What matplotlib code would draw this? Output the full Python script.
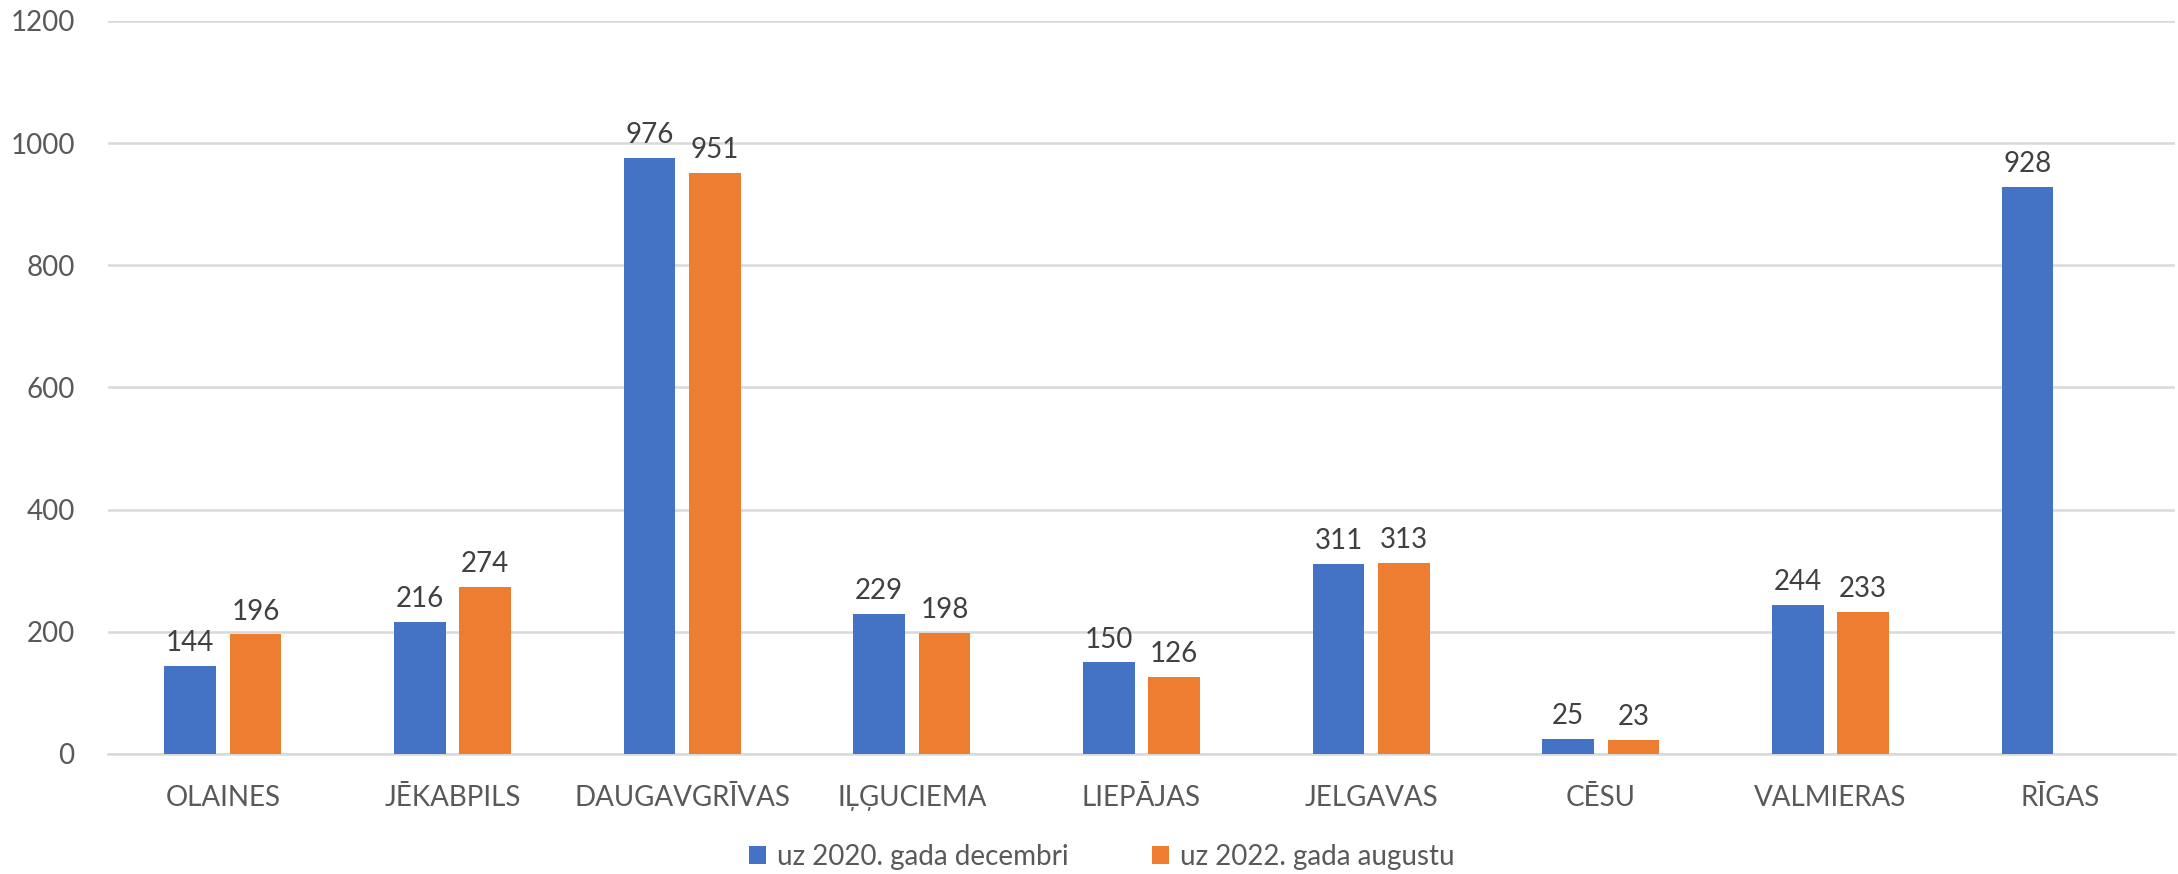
import numpy as np
import matplotlib.pyplot as plt

plt.rcParams['font.family'] = ['Lato', 'DejaVu Sans']

categories = ["OLAINES", "JĒKABPILS", "DAUGAVGRĪVAS", "IĻĢUCIEMA", "LIEPĀJAS",
              "JELGAVAS", "CĒSU", "VALMIERAS", "RĪGAS"]
dec_2020 = [144, 216, 976, 229, 150, 311, 25, 244, 928]
aug_2022 = [196, 274, 951, 198, 126, 313, 23, 233, np.nan]
series_names = ["uz 2020. gada decembri", "uz 2022. gada augustu"]

fig = plt.figure(figsize=(21.78, 8.74), dpi=100)
ax = fig.add_axes([0.0496, 0.1373, 0.949, 0.8387])

x = np.arange(len(categories))
w = 0.225
off = 0.142
b1 = ax.bar(x - off, dec_2020, w, color="#4472C4", label=series_names[0], zorder=3)
b2 = ax.bar(x + off, aug_2022, w, color="#ED7D31", label=series_names[1], zorder=3)

for bars, vals in ((b1, dec_2020), (b2, aug_2022)):
    for rect, v in zip(bars, vals):
        if np.isnan(v):
            continue
        ax.annotate(f"{int(v)}", (rect.get_x() + rect.get_width() / 2, v),
                    xytext=(0, 7), textcoords="offset points",
                    ha="center", va="bottom", fontsize=20, color="#404040")

ax.set_xlim(-0.5, len(categories) - 0.5)
ax.set_ylim(0, 1200)
ax.set_yticks(range(0, 1201, 200))
ax.set_xticks(x)
ax.set_xticklabels(categories)
ax.tick_params(axis="both", length=0, labelsize=20, labelcolor="#595959")
ax.tick_params(axis="y", pad=24)
ax.tick_params(axis="x", pad=22)
ax.grid(axis="y", color="#D9D9D9", linewidth=1.8, zorder=0)
for s in ["top", "right", "left"]:
    ax.spines[s].set_visible(False)
ax.spines["bottom"].set_color("#D9D9D9")
ax.spines["bottom"].set_linewidth(1.8)

leg = fig.legend(loc="center", bbox_to_anchor=(0.506, 0.02), ncol=2, frameon=False,
                 fontsize=20, handlelength=0.6, handleheight=0.6, handletextpad=0.4,
                 columnspacing=3.0)
for t in leg.get_texts():
    t.set_color("#595959")

fig.savefig("out.png", dpi=100)
